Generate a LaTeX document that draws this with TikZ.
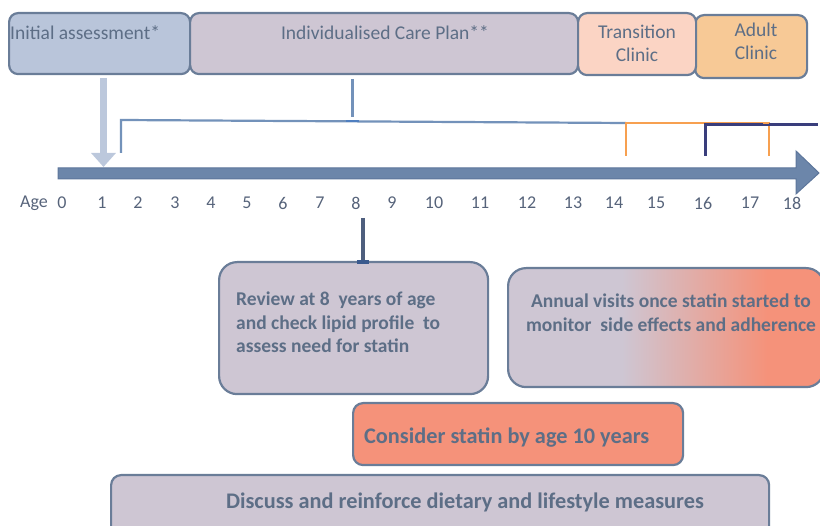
\documentclass[tikz,border=0pt]{standalone}
\usepackage{fontspec}
\setmainfont{Carlito}
\usetikzlibrary{arrows.meta}
\definecolor{bordercol}{HTML}{6A7D98}
\definecolor{lavfill}{HTML}{CEC6D3}
\definecolor{bluefill}{HTML}{B9C5DA}
\definecolor{peachfill}{HTML}{FBD4C4}
\definecolor{adultfill}{HTML}{F7C996}
\definecolor{salmonfill}{HTML}{F5927A}
\definecolor{txtcol}{HTML}{5D6E86}
\definecolor{agecol}{HTML}{56637A}
\definecolor{lightarrow}{HTML}{BCC8DC}
\definecolor{timecol}{HTML}{6C86AA}
\definecolor{timeedge}{HTML}{5D769B}
\definecolor{bluel}{HTML}{7392BA}
\definecolor{markblue}{HTML}{4F7FC0}
\definecolor{orangel}{HTML}{F7A050}
\definecolor{navyl}{HTML}{3A3E7C}
\definecolor{stemcol}{HTML}{4E5F7E}
\definecolor{stemmark}{HTML}{3A5A8E}
\pgfdeclarehorizontalshading{annualsh}{100bp}{color(0bp)=(lavfill); color(43bp)=(lavfill); color(66bp)=(salmonfill); color(100bp)=(salmonfill)}
\begin{document}
\begin{tikzpicture}[x=1pt,y=-1pt,
  box/.style={draw=bordercol, line width=2.2pt, rounded corners=#1, inner sep=0pt, anchor=north west},
  toplbl/.style={text=txtcol, font=\fontsize{19.5}{23}\selectfont, inner sep=0pt, align=center},
  boldlbl/.style={text=txtcol, font=\fontsize{19.5}{23.5}\selectfont\bfseries, inner sep=0pt},
  biglbl/.style={text=txtcol, font=\fontsize{22.3}{26}\selectfont\bfseries, inner sep=0pt},
  agelbl/.style={text=agecol, font=\fontsize{18}{20}\selectfont, inner sep=0pt},
  thinline/.style={line width=2.2pt}]
\useasboundingbox (0,0) rectangle (820,526);
\clip (0,0) rectangle (820,526);

% top boxes
\node[box=9pt, fill=bluefill, minimum width=181pt, minimum height=61pt] (init) at (8,12) {};
\node[box=9pt, fill=lavfill, minimum width=388pt, minimum height=61pt] (care) at (189,12) {};
\node[box=9pt, fill=adultfill, minimum width=112pt, minimum height=63pt] (adult) at (694,14) {};
\node[box=9pt, fill=peachfill, minimum width=118pt, minimum height=62pt] (trans) at (577,12) {};
\node[toplbl, anchor=west] (initt) at (10,33) {Initial assessment*};
\node[toplbl] (caret) at (385,33) {Individualised Care Plan**};
\node[toplbl] (transt) at (637,43.5) {Transition\\Clinic};
\node[toplbl] (adultt) at (756,41.5) {Adult\\Clinic};

% timeline arrow
\coordinate (tstart) at (58,168);
\filldraw[fill=timecol, draw=timeedge, line width=1pt, line join=miter]
  (tstart) -- (796,168) -- (796,151) -- (819,173) -- (796,194) -- (796,179) -- (58,179) -- cycle;

% initial assessment arrow
\coordinate (ia1) at (103.5,78);
\coordinate (ia2) at (103.5,167);
\draw[lightarrow, line width=7pt, -{Triangle[width=24pt,length=14pt]}] (ia1) -- (ia2);

% care plan bracket
\coordinate (cb1) at (121,153);
\coordinate (cb2) at (121,120);
\coordinate (cb3) at (626,123);
\draw[bluel, thinline] (cb1) -- (cb2) -- (cb3);
\coordinate (ct1) at (352.5,79);
\coordinate (ct2) at (352.5,117);
\draw[bluel, line width=2.5pt] (ct1) -- (ct2);
\coordinate (cm1) at (346,121);
\coordinate (cm2) at (359,121);
\draw[markblue, line width=2.5pt] (cm1) -- (cm2);

% transition / adult brackets
\coordinate (o1) at (626,156);
\coordinate (o2) at (626,123);
\coordinate (o3) at (769,123);
\coordinate (o4) at (769,156);
\draw[orangel, line width=2.5pt] (o1) -- (o2) -- (o3) -- (o4);
\coordinate (n1) at (705.5,156);
\coordinate (n2) at (705.5,124.5);
\coordinate (n3) at (818,124.5);
\draw[navyl, line width=2.2pt] (n1) -- (n2) -- (n3);
\coordinate (o5) at (763,123);
\draw[orangel, line width=2.5pt] (o5) -- (o3);

% age labels
\node[agelbl] (age) at (34,203) {Age};
\foreach \v/\xx in {0/62,1/102,2/138,3/175,4/211,5/247,6/283,7/320,8/356,9/392,10/434,11/480,12/527,13/573,14/614,15/656,16/703,17/750,18/792}{
  \node[agelbl] (a\v) at (\xx,203) {\v};
}

% review box
\node[box=18pt, fill=lavfill, minimum width=269pt, minimum height=132pt] (review) at (218,261) {};
\node[boldlbl, anchor=north west, align=left] (reviewt) at (236,292) {Review at 8\ \ years of age\\and check lipid profile\ \ to\\assess need for statin};
\coordinate (s1) at (363,218);
\draw[stemcol, line width=3.5pt] (s1) -- (review.north -| s1);
\fill[stemmark] (357,260) rectangle (369,264.5);

% annual box
\node[box=18pt, shade, shading=annualsh, minimum width=316pt, minimum height=119pt] (annual) at (507,267) {};
\node[boldlbl, align=center] (annualt) at (671,312.5) {Annual visits once statin started to\\monitor\ \ side effects and adherence};

% consider box
\node[box=10pt, fill=salmonfill, minimum width=330pt, minimum height=62pt] (consider) at (352,402) {};
\node[biglbl, anchor=west] (considert) at (364,438) {Consider statin by age 10 years};

% discuss box
\node[box=10pt, fill=lavfill, minimum width=658pt, minimum height=70pt] (discuss) at (110,474) {};
\node[biglbl] (discusst) at (465,502) {Discuss and reinforce dietary and lifestyle measures};
\end{tikzpicture}
\end{document}
